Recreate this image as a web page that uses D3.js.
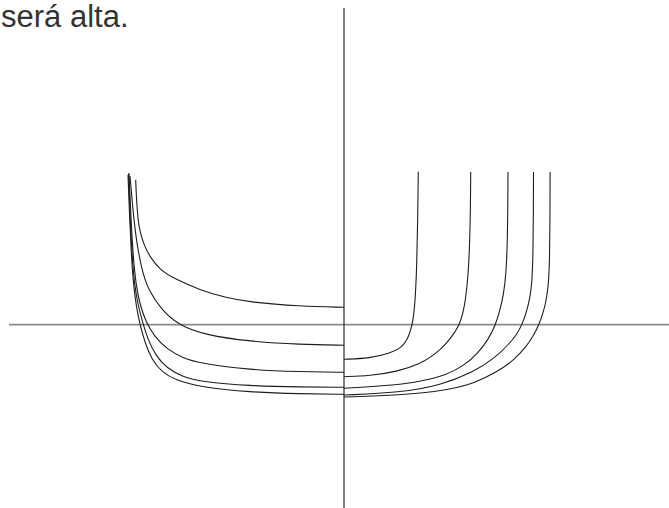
<!DOCTYPE html>
<html>
<head>
<meta charset="utf-8">
<script src="https://cdn.jsdelivr.net/npm/d3@7"></script>
<style>
  html, body { margin: 0; padding: 0; background: #fff; }
  svg { display: block; }
</style>
</head>
<body>
<svg id="chart" width="669" height="508"></svg>
<script>
// Caption fragment shown above the plot
const caption = "será alta.";

// Axis extents in plot units (the two axes cross at the origin)
const xExtent = [-33.5, 32.5];
const yExtent = [-18.33, 31.67];

// Left family: curves rising steeply near x ≈ -21 and flattening toward x = 0
const left1 = [[-20.83,14.47],[-20.75,12.47],[-20.6,10.47],[-20.4,9.27],[-20.0,7.97],[-19.4,6.77],[-18.4,5.47],[-16.9,4.57],[-14.4,3.47],[-11.9,2.72],[-9.4,2.24],[-4.4,1.84],[0,1.74]];
const left2 = [[-21.4,14.87],[-21.17,12.17],[-20.83,8.77],[-20.23,5.47],[-19.57,3.47],[-18.23,1.47],[-16.6,0],[-13.9,-1.03],[-9.4,-1.68],[-4.4,-1.98],[0,-2.06]];
const left3 = [[-21.5,15.17],[-21.32,10.97],[-21.1,6.97],[-20.8,3.97],[-20.4,1.97],[-19.8,0.27],[-19.0,-1.13],[-17.73,-2.43],[-16.1,-3.33],[-14.4,-3.86],[-9.4,-4.53],[-4.4,-4.7],[0,-4.76]];
const left4 = [[-21.55,15.07],[-21.4,10.97],[-21.2,6.97],[-20.95,3.97],[-20.6,1.97],[-20.15,0.27],[-19.6,-1.53],[-18.8,-3.13],[-17.73,-4.33],[-16.1,-5.23],[-14.4,-5.68],[-9.4,-6.13],[-4.4,-6.23],[0,-6.26]];
const left5 = [[-21.6,14.97],[-21.45,10.97],[-21.27,6.97],[-21.05,3.97],[-20.75,1.67],[-20.4,0],[-19.9,-1.83],[-19.2,-3.53],[-18.2,-4.73],[-16.9,-5.53],[-14.4,-6.23],[-9.4,-6.76],[-4.4,-6.91],[0,-6.96]];

// Right family: curves starting at x = 0 and turning up to vertical asymptotes
const right1 = [[0,-3.46],[2.6,-3.36],[4.6,-2.86],[5.6,-2.38],[6.27,-1.7],[6.87,-0.03],[7.1,2.14],[7.27,5.47],[7.37,10.47],[7.43,15.3]];
const right2 = [[0,-5.2],[2.6,-5.11],[5.27,-4.7],[7.6,-3.93],[9.1,-2.98],[10.3,-1.83],[11.1,-0.73],[11.53,0],[11.9,1.17],[12.15,2.47],[12.43,4.97],[12.58,8.47],[12.65,11.97],[12.67,15.27]];
const right3 = [[0,-6.36],[5.27,-6.03],[7.6,-5.68],[10.27,-5.03],[12.1,-4.03],[13.4,-2.83],[14.4,-1.53],[15.17,0],[15.6,1.47],[15.95,2.97],[16.2,4.97],[16.33,7.97],[16.38,11.47],[16.4,15.27]];
const right4 = [[0,-7.03],[5.6,-6.78],[9.6,-6.08],[12.93,-4.73],[15.1,-3.33],[16.6,-1.83],[17.3,-0.93],[17.8,0],[18.25,1.27],[18.6,2.67],[18.8,4.27],[18.9,6.97],[18.94,10.97],[18.95,15.27]];
const right5 = [[0,-7.23],[5.6,-7.05],[10.27,-6.58],[13.1,-5.83],[15.3,-4.73],[17.0,-3.53],[18.2,-2.23],[18.9,-1.18],[19.5,0],[19.9,1.17],[20.2,2.27],[20.45,3.97],[20.56,6.47],[20.6,10.47],[20.61,15.27]];

const curves = [left1, left2, left3, left4, left5, right1, right2, right3, right4, right5];

const svg = d3.select("#chart");

const x = d3.scaleLinear().domain(xExtent).range([9, 669]);
const y = d3.scaleLinear().domain(yExtent).range([508, 8]);

// Horizontal axis (grey) and vertical axis (dark)
svg.append("line")
  .attr("x1", x(xExtent[0])).attr("x2", x(xExtent[1]))
  .attr("y1", y(0)).attr("y2", y(0))
  .attr("stroke", "#8a8a8a").attr("stroke-width", 1.8);

svg.append("line")
  .attr("x1", x(0)).attr("x2", x(0))
  .attr("y1", y(yExtent[1])).attr("y2", y(yExtent[0]))
  .attr("stroke", "#2a2a2a").attr("stroke-width", 1.2);

const line = d3.line()
  .x(d => x(d[0]))
  .y(d => y(d[1]))
  .curve(d3.curveBasis);

svg.append("g")
  .selectAll("path")
  .data(curves)
  .join("path")
  .attr("d", line)
  .attr("fill", "none")
  .attr("stroke", "#1e1e1e")
  .attr("stroke-width", 1.1);

svg.append("text")
  .attr("x", 1)
  .attr("y", 27)
  .attr("font-family", "'Liberation Sans', Arial, sans-serif")
  .attr("font-size", 31)
  .attr("fill", "#333")
  .text(caption);
</script>
</body>
</html>
